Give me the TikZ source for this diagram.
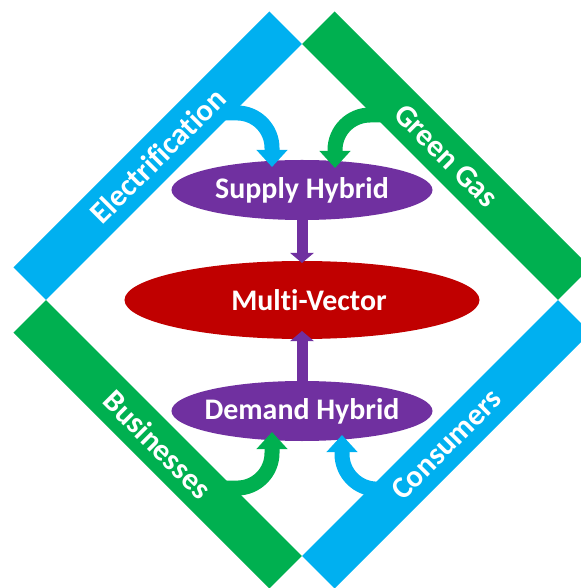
\documentclass[tikz,border=0pt]{standalone}
\usepackage{fontspec}
\setmainfont{Carlito}[Ligatures=NoCommon]
\usetikzlibrary{arrows.meta,calc,shapes.geometric}
\definecolor{elecblue}{RGB}{0,176,240}
\definecolor{gasgreen}{RGB}{0,176,80}
\definecolor{hybpurple}{RGB}{112,48,160}
\definecolor{mvred}{RGB}{192,0,0}
\tikzset{
	bar/.style={rectangle, outer sep=0pt, minimum width=362bp, minimum height=46bp},
	barlabel/.style={text=white, font=\fontsize{31}{36}\selectfont\bfseries},
	blob/.style={ellipse, outer sep=0pt, inner xsep=-20bp, text=white, font=\fontsize{30}{36}\selectfont\bfseries},
	hybrid/.style={blob, fill=hybpurple, minimum width=261bp, minimum height=60bp},
	feed/.style={line width=15bp, rounded corners=35bp, -{Triangle[width=30bp,length=17bp]}},
	link/.style={hybpurple, line width=11bp, -{Triangle[width=23bp,length=10bp]}}
}

\begin{document}
\begin{tikzpicture}[x=1bp,y=1bp]
			\tikzstyle{every node}+=[inner sep=0pt]
			\useasboundingbox (-302,-288) rectangle (279,300);
			\node [bar, fill=elecblue, rotate=45] (elec) at (-144.3,144.3) {};
			\node [bar, fill=gasgreen, rotate=-45] (gas) at (144.3,144.3) {};
			\node [bar, fill=gasgreen, rotate=-45] (biz) at (-144.3,-144.3) {};
			\node [bar, fill=elecblue, rotate=45] (cons) at (144.3,-144.3) {};
			\node [hybrid] (supply) at (0,110) {Supply Hybrid};
			\node [blob, fill=mvred, minimum width=355bp, minimum height=78bp] (multi) at (0,0) {\hspace*{14bp}Multi-Vector};
			\node [hybrid] (demand) at (0,-111) {Demand Hybrid};
			\coordinate (e1) at ($(elec.west)!0.667!(elec.east)$);
			\coordinate (g1) at ($(gas.west)!0.341!(gas.east)$);
			\coordinate (b1) at ($(biz.west)!0.671!(biz.east)$);
			\coordinate (c1) at ($(cons.west)!0.325!(cons.east)$);
			\draw [feed, elecblue] (e1) -| ([shift={(-30,-7)}]supply.north);
			\draw [feed, gasgreen] (g1) -| ([shift={(33,-8)}]supply.north);
			\draw [feed, gasgreen] (b1) -| ([shift={(-30,9)}]demand.south);
			\draw [feed, elecblue] (c1) -| ([shift={(40,6)}]demand.south);
			\draw [link, shorten >=-2bp] (supply) -- (multi);
			\draw [link, shorten >=-8bp] (demand) -- (multi);
			\node [barlabel, rotate=45] (electext) at (elec) {Electrification};
			\node [barlabel, rotate=-45] (gastext) at (gas) {Green Gas};
			\node [barlabel, rotate=-45] (biztext) at (biz) {Businesses};
			\node [barlabel, rotate=45] (constext) at (cons) {Consumers};
		\end{tikzpicture}
\end{document}
